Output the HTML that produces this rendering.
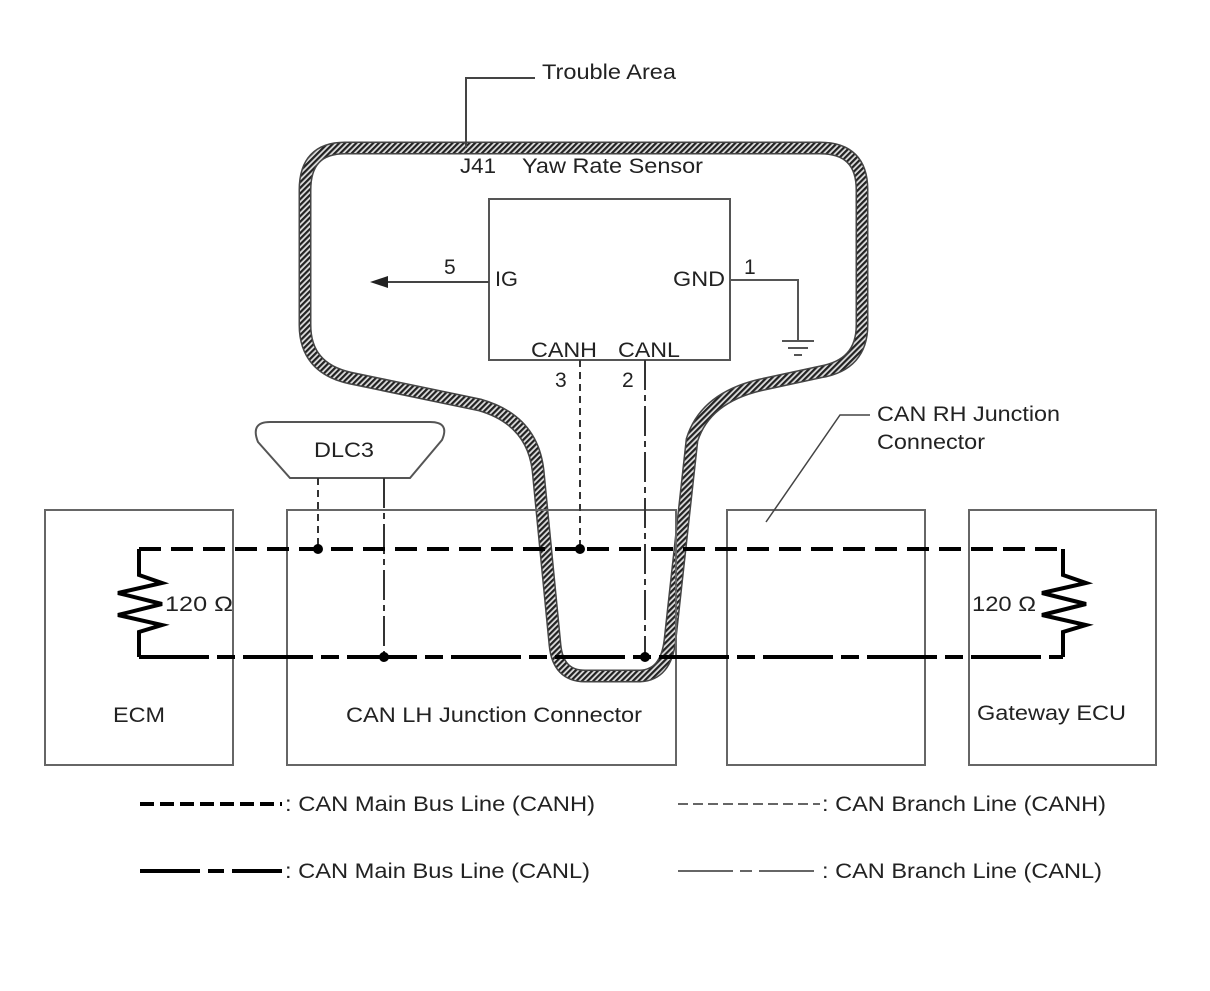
<!DOCTYPE html>
<html><head><meta charset="utf-8"><style>
html,body{margin:0;padding:0;background:#fff;}
svg text{font-family:"Liberation Sans",Arial,sans-serif;font-size:21px;fill:#222;}
</style></head><body>
<svg width="1210" height="986" viewBox="0 0 1210 986" xmlns="http://www.w3.org/2000/svg">
<defs>
<pattern id="h" width="4" height="4" patternUnits="userSpaceOnUse" patternTransform="rotate(45)">
<rect width="4" height="4" fill="#ddd"/><rect width="2.2" height="4" fill="#222"/>
</pattern>
</defs>
<!-- trouble area outline -->
<path id="ta" d="M345,148 L820,148 Q862,148 862,190 L862,325 Q862,365 820,372 L760,385 Q705,398 692,440 L670,640 Q666,675 640,676 L585,676 Q558,676 555,645 L538,470 Q532,420 480,405 L350,378 Q305,368 305,325 L305,190 Q305,148 345,148 Z" fill="none" stroke="#444" stroke-width="13"/>
<path d="M345,148 L820,148 Q862,148 862,190 L862,325 Q862,365 820,372 L760,385 Q705,398 692,440 L670,640 Q666,675 640,676 L585,676 Q558,676 555,645 L538,470 Q532,420 480,405 L350,378 Q305,368 305,325 L305,190 Q305,148 345,148 Z" fill="none" stroke="url(#h)" stroke-width="10"/>
<polyline points="466,148 466,78 535,78" fill="none" stroke="#444" stroke-width="2"/>
<text x="542" y="79" textLength="134" lengthAdjust="spacingAndGlyphs">Trouble Area</text>
<text x="460" y="173" textLength="36" lengthAdjust="spacingAndGlyphs">J41</text>
<text x="522" y="173" textLength="181" lengthAdjust="spacingAndGlyphs">Yaw Rate Sensor</text>
<!-- sensor box -->
<rect x="489" y="199" width="241" height="161" fill="none" stroke="#555" stroke-width="2"/>
<text x="495" y="286" textLength="23" lengthAdjust="spacingAndGlyphs">IG</text>
<text x="673" y="286" textLength="52" lengthAdjust="spacingAndGlyphs">GND</text>
<text x="531" y="357" textLength="66" lengthAdjust="spacingAndGlyphs">CANH</text>
<text x="618" y="357" textLength="62" lengthAdjust="spacingAndGlyphs">CANL</text>
<text x="444" y="274">5</text>
<text x="744" y="274">1</text>
<text x="555" y="387">3</text>
<text x="622" y="387">2</text>
<line x1="489" y1="282" x2="385" y2="282" stroke="#444" stroke-width="2"/>
<polygon points="370,282 388,276 388,288" fill="#222"/>
<polyline points="730,280 798,280 798,340" fill="none" stroke="#555" stroke-width="2"/>
<line x1="782" y1="341" x2="814" y2="341" stroke="#555" stroke-width="2"/>
<line x1="788" y1="348" x2="808" y2="348" stroke="#555" stroke-width="2"/>
<line x1="794" y1="355" x2="802" y2="355" stroke="#555" stroke-width="2"/>
<!-- boxes -->
<rect x="45" y="510" width="188" height="255" fill="none" stroke="#666" stroke-width="2"/>
<rect x="287" y="510" width="389" height="255" fill="none" stroke="#666" stroke-width="2"/>
<rect x="727" y="510" width="198" height="255" fill="none" stroke="#666" stroke-width="2"/>
<rect x="969" y="510" width="187" height="255" fill="none" stroke="#666" stroke-width="2"/>
<text x="113" y="722" textLength="52" lengthAdjust="spacingAndGlyphs">ECM</text>
<text x="346" y="722" textLength="296" lengthAdjust="spacingAndGlyphs">CAN LH Junction Connector</text>
<text x="977" y="720" textLength="149" lengthAdjust="spacingAndGlyphs">Gateway ECU</text>
<text x="877" y="421" textLength="183" lengthAdjust="spacingAndGlyphs">CAN RH Junction</text>
<text x="877" y="449" textLength="108" lengthAdjust="spacingAndGlyphs">Connector</text>
<polyline points="870,415 840,415 766,522" fill="none" stroke="#444" stroke-width="1.5"/>
<!-- DLC3 -->
<path d="M270,422 L430,422 Q450,422 442,440 L410,478 L290,478 L258,442 Q250,422 270,422 Z" fill="#fff" stroke="#555" stroke-width="2"/>
<text x="314" y="457" textLength="60" lengthAdjust="spacingAndGlyphs">DLC3</text>
<!-- branch lines -->
<line x1="318" y1="478" x2="318" y2="549" stroke="#333" stroke-width="2" stroke-dasharray="7 5"/>
<line x1="384" y1="478" x2="384" y2="657" stroke="#333" stroke-width="2" stroke-dasharray="30 5 6 5"/>
<line x1="580" y1="360" x2="580" y2="549" stroke="#333" stroke-width="2" stroke-dasharray="7 5"/>
<line x1="645" y1="360" x2="645" y2="657" stroke="#333" stroke-width="2" stroke-dasharray="30 5 6 5"/>
<!-- main bus -->
<line x1="139" y1="549" x2="1063" y2="549" stroke="#000" stroke-width="4" stroke-dasharray="22 10"/>
<line x1="139" y1="657" x2="1063" y2="657" stroke="#000" stroke-width="4" stroke-dasharray="70 8 18 8"/>
<polyline points="139,549 139,575 162,583 118,593 162,604 118,615 162,625 139,632 139,657" fill="none" stroke="#000" stroke-width="4"/>
<polyline points="1063,549 1063,575 1086,583 1042,593 1086,604 1042,615 1086,625 1063,632 1063,657" fill="none" stroke="#000" stroke-width="4"/>
<text x="165" y="611" textLength="68" lengthAdjust="spacingAndGlyphs">120 Ω</text>
<text x="972" y="611" textLength="64" lengthAdjust="spacingAndGlyphs">120 Ω</text>
<circle cx="318" cy="549" r="5" fill="#000"/>
<circle cx="580" cy="549" r="5" fill="#000"/>
<circle cx="384" cy="657" r="5" fill="#000"/>
<circle cx="645" cy="657" r="5" fill="#000"/>
<!-- legend -->
<line x1="140" y1="804" x2="282" y2="804" stroke="#000" stroke-width="4" stroke-dasharray="14 6"/>
<text x="285" y="811" textLength="310" lengthAdjust="spacingAndGlyphs">: CAN Main Bus Line (CANH)</text>
<line x1="140" y1="871" x2="282" y2="871" stroke="#000" stroke-width="4" stroke-dasharray="60 8 16 8"/>
<text x="285" y="878" textLength="305" lengthAdjust="spacingAndGlyphs">: CAN Main Bus Line (CANL)</text>
<line x1="678" y1="804" x2="820" y2="804" stroke="#333" stroke-width="1.5" stroke-dasharray="10 5"/>
<text x="822" y="811" textLength="284" lengthAdjust="spacingAndGlyphs">: CAN Branch Line (CANH)</text>
<line x1="678" y1="871" x2="820" y2="871" stroke="#333" stroke-width="1.5" stroke-dasharray="55 7 12 7"/>
<text x="822" y="878" textLength="280" lengthAdjust="spacingAndGlyphs">: CAN Branch Line (CANL)</text>
</svg>
</body></html>
